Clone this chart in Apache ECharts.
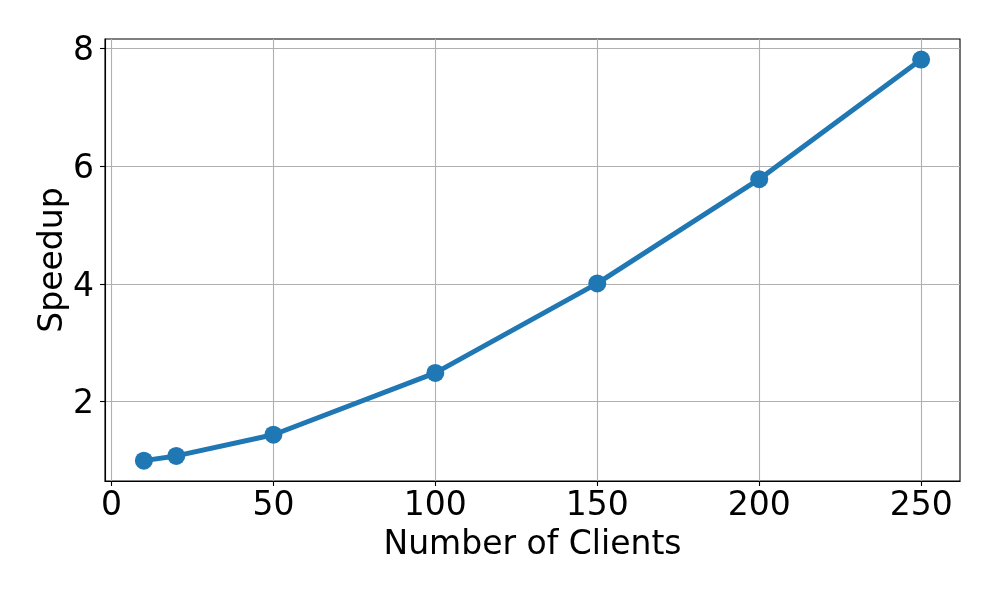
<!DOCTYPE html>
<html>
<head>
<meta charset="utf-8">
<script src="https://cdn.jsdelivr.net/npm/echarts@6/dist/echarts.min.js"></script>
<style>
  html, body { margin: 0; padding: 0; background: #fff; }
  #chart { width: 996px; height: 598px; }
</style>
</head>
<body>
<div id="chart"></div>
<script>
// data
const clients = [10, 20, 50, 100, 150, 200, 250];
const speedup = [1.0, 1.08, 1.44, 2.49, 4.01, 5.78, 7.81];
const xTicks = [0, 50, 100, 150, 200, 250];
const yTicks = [2, 4, 6, 8];

const font = 'DejaVu Sans';
const chart = echarts.init(document.getElementById('chart'));

chart.setOption({
	animation: false,
	backgroundColor: '#fff',
	grid: {
		left: 105, right: 36, top: 39, bottom: 117,
		show: true, borderColor: '#000', borderWidth: 1.1, backgroundColor: 'transparent'
	},
	xAxis: {
		type: 'value',
		min: -2, max: 262,
		name: 'Number of Clients',
		nameLocation: 'middle',
		nameGap: 48,
		nameMoveOverlap: false,
		nameTextStyle: { fontFamily: font, fontSize: 33, color: '#000' },
		axisLine: { show: true, onZero: false, lineStyle: { color: '#000', width: 1.1 } },
		axisTick: { show: true, length: 5, customValues: xTicks, lineStyle: { color: '#000', width: 1.1 } },
		axisLabel: { customValues: xTicks, margin: 9, fontFamily: font, fontSize: 33, color: '#000' },
		splitLine: { show: true, lineStyle: { color: '#b0b0b0', width: 1.1 } }
	},
	yAxis: {
		type: 'value',
		min: 0.654, max: 8.16,
		name: 'Speedup',
		nameLocation: 'middle',
		nameGap: 35,
		nameMoveOverlap: false,
		nameTextStyle: { fontFamily: font, fontSize: 33, color: '#000' },
		axisLine: { show: true, onZero: false, lineStyle: { color: '#000', width: 1.1 } },
		axisTick: { show: true, length: 5, customValues: yTicks, lineStyle: { color: '#000', width: 1.1 } },
		axisLabel: {
			customValues: yTicks, margin: 11,
			formatter: v => '{t|' + v + '}',
			rich: { t: { fontFamily: font, fontSize: 33, color: '#000', padding: [6, 0, 0, 0] } }
		},
		splitLine: { show: true, lineStyle: { color: '#b0b0b0', width: 1.1 } }
	},
	series: [{
		type: 'line',
		data: clients.map((c, i) => [c, speedup[i]]),
		symbol: 'circle',
		symbolSize: 18,
		lineStyle: { color: '#1f77b4', width: 5 },
		itemStyle: { color: '#1f77b4' }
	}]
});
</script>
</body>
</html>
